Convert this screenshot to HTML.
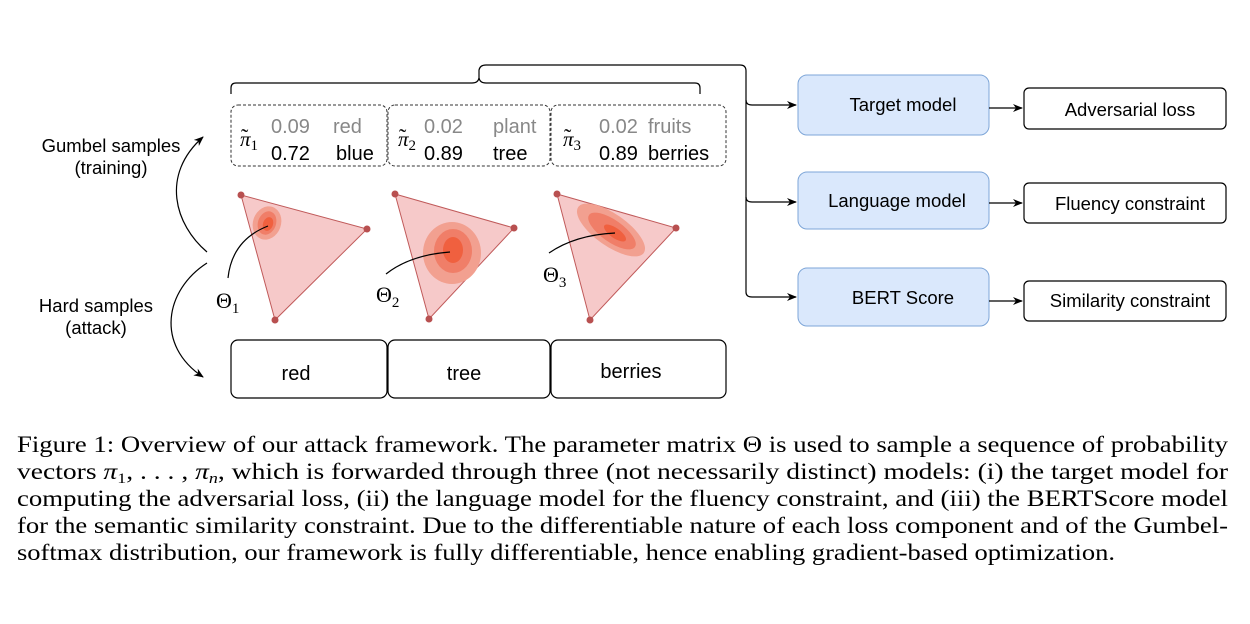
<!DOCTYPE html>
<html><head><meta charset="utf-8"><style>
body{margin:0;background:#fff;width:1250px;height:624px;overflow:hidden}
svg{display:block}
.s{font-family:"Liberation Sans",sans-serif}
.m{font-family:"Liberation Serif",serif}
</style></head><body>
<svg width="1250" height="624" viewBox="0 0 1250 624">
<defs>
<marker id="ah" markerWidth="10" markerHeight="8" refX="9" refY="4" orient="auto" markerUnits="userSpaceOnUse"><path d="M0,0 L10,4 L0,8 L3,4 Z" fill="#000"/></marker>
</defs>
<g fill="none" stroke="#000" stroke-width="1.2">
<path d="M231,94 V88 Q231,83 236,83 H472 Q478,83 479,78 V70 Q480,65 486,65 H740 Q746,65 746,71 V292 Q746,297 752,297 H796" marker-end="url(#ah)"/>
<path d="M479,78 Q480,83 486,83 H695 Q700,83 700,88 V94"/>
<path d="M746,100 Q746,105 752,105 H796" marker-end="url(#ah)"/>
<path d="M746,197 Q746,202 752,202 H796" marker-end="url(#ah)"/>
</g>
<g fill="none" stroke="#333" stroke-width="1" stroke-dasharray="3,2">
<rect x="231" y="105" width="156" height="61" rx="7"/>
<rect x="388" y="105" width="162" height="61" rx="7"/>
<rect x="551" y="105" width="175" height="61" rx="7"/>
</g>
<g class="m" font-size="21">
<text x="240" y="146" font-style="italic">π<tspan font-style="normal" font-size="15" dy="4">1</tspan></text>
<text x="241" y="144" font-size="22">˜</text>
<text x="398" y="146" font-style="italic">π<tspan font-style="normal" font-size="15" dy="4">2</tspan></text>
<text x="399" y="144" font-size="22">˜</text>
<text x="563" y="146" font-style="italic">π<tspan font-style="normal" font-size="15" dy="4">3</tspan></text>
<text x="564" y="144" font-size="22">˜</text>
</g>
<g class="s" font-size="20">
<text x="271" y="133" fill="#888">0.09</text><text x="333" y="133" fill="#888">red</text>
<text x="271" y="160">0.72</text><text x="336" y="160">blue</text>
<text x="424" y="133" fill="#888">0.02</text><text x="493" y="133" fill="#888">plant</text>
<text x="424" y="160">0.89</text><text x="493" y="160">tree</text>
<text x="599" y="133" fill="#888">0.02</text><text x="648" y="133" fill="#888">fruits</text>
<text x="599" y="160">0.89</text><text x="648" y="160">berries</text>
</g>
<g>
<polygon points="241,195 367,229 275,320" fill="#f6c9c9" stroke="#c05a5a" stroke-width="1"/>
<ellipse cx="267" cy="223" rx="14" ry="17" transform="rotate(20 267 223)" fill="#f2a090"/>
<ellipse cx="267" cy="223" rx="9" ry="12" transform="rotate(20 267 223)" fill="#f07e68"/>
<ellipse cx="268" cy="224" rx="5" ry="7" transform="rotate(20 268 224)" fill="#f0603f"/>
<circle cx="241" cy="195" r="3.5" fill="#b85050"/><circle cx="367" cy="229" r="3.5" fill="#b85050"/><circle cx="275" cy="320" r="3.5" fill="#b85050"/>
</g>
<g>
<polygon points="395,194 514,228 429,319" fill="#f6c9c9" stroke="#c05a5a" stroke-width="1"/>
<ellipse cx="452" cy="253" rx="29" ry="31" fill="#f2a090"/>
<ellipse cx="453" cy="251" rx="19" ry="22" fill="#f07e68"/>
<ellipse cx="453" cy="250" rx="10" ry="13" fill="#f0603f"/>
<circle cx="395" cy="194" r="3.5" fill="#b85050"/><circle cx="514" cy="228" r="3.5" fill="#b85050"/><circle cx="429" cy="319" r="3.5" fill="#b85050"/>
</g>
<g>
<polygon points="557,194 676,228 590,320" fill="#f6c9c9" stroke="#c05a5a" stroke-width="1"/>
<ellipse cx="611" cy="230" rx="40" ry="16" transform="rotate(35 611 230)" fill="#f2a090"/>
<ellipse cx="612" cy="231" rx="28" ry="11" transform="rotate(35 612 231)" fill="#f07e68"/>
<ellipse cx="615" cy="233" rx="13" ry="5" transform="rotate(35 615 233)" fill="#f0603f"/>
<circle cx="557" cy="194" r="3.5" fill="#b85050"/><circle cx="676" cy="228" r="3.5" fill="#b85050"/><circle cx="590" cy="320" r="3.5" fill="#b85050"/>
</g>
<g fill="none" stroke="#000" stroke-width="1.2">
<path d="M228,278 Q232,240 268,226"/>
<path d="M386,274 Q410,255 450,252"/>
<path d="M549,253 Q575,235 615,233"/>
<path d="M207,252 C175,225 160,175 203,137" marker-end="url(#ah)"/>
<path d="M207,263 C165,290 155,345 203,377" marker-end="url(#ah)"/>
</g>
<g class="m" font-size="22">
<text x="216" y="308">Θ<tspan font-size="15" dy="5">1</tspan></text>
<text x="376" y="302">Θ<tspan font-size="15" dy="5">2</tspan></text>
<text x="543" y="282">Θ<tspan font-size="15" dy="5">3</tspan></text>
</g>
<g class="s" font-size="18.5" text-anchor="middle">
<text x="111" y="152">Gumbel samples</text>
<text x="111" y="174">(training)</text>
<text x="96" y="312">Hard samples</text>
<text x="96" y="334">(attack)</text>
</g>
<g fill="none" stroke="#000" stroke-width="1.2">
<rect x="231" y="340" width="156" height="58" rx="7"/>
<rect x="388" y="340" width="162" height="58" rx="7"/>
<rect x="551" y="340" width="175" height="58" rx="7"/>
</g>
<g class="s" font-size="20" text-anchor="middle">
<text x="296" y="380">red</text>
<text x="464" y="380">tree</text>
<text x="631" y="378">berries</text>
</g>
<g fill="#dae8fc" stroke="#7ea6d8" stroke-width="1">
<rect x="798" y="75" width="191" height="60" rx="9"/>
<rect x="798" y="172" width="191" height="57" rx="9"/>
<rect x="798" y="268" width="191" height="58" rx="9"/>
</g>
<g fill="#fff" stroke="#000" stroke-width="1.2">
<rect x="1024" y="88" width="202" height="41" rx="5"/>
<rect x="1024" y="183" width="202" height="40" rx="5"/>
<rect x="1024" y="281" width="202" height="40" rx="5"/>
</g>
<g stroke="#000" stroke-width="1.2">
<line x1="989" y1="108" x2="1022" y2="108" marker-end="url(#ah)"/>
<line x1="989" y1="203" x2="1022" y2="203" marker-end="url(#ah)"/>
<line x1="989" y1="301" x2="1022" y2="301" marker-end="url(#ah)"/>
</g>
<g class="s" font-size="18.5" text-anchor="middle">
<text x="903" y="111">Target model</text>
<text x="897" y="207">Language model</text>
<text x="903" y="304">BERT Score</text>
<text x="1130" y="116">Adversarial loss</text>
<text x="1130" y="210">Fluency constraint</text>
<text x="1130" y="307">Similarity constraint</text>
</g>
<g class="m" font-size="23">
<text x="17" y="452" textLength="1211" lengthAdjust="spacingAndGlyphs">Figure 1:  Overview of our attack framework. The parameter matrix Θ is used to sample a sequence of probability</text>
<text x="17" y="479" textLength="1211" lengthAdjust="spacingAndGlyphs">vectors <tspan font-style="italic">π</tspan><tspan font-size="15" dy="4">1</tspan><tspan dy="-4">, . . . , </tspan><tspan font-style="italic">π</tspan><tspan font-size="15" font-style="italic" dy="4">n</tspan><tspan dy="-4">, which is forwarded through three (not necessarily distinct) models: (i) the target model for</tspan></text>
<text x="17" y="506" textLength="1211" lengthAdjust="spacingAndGlyphs">computing the adversarial loss, (ii) the language model for the fluency constraint, and (iii) the BERTScore model</text>
<text x="17" y="533" textLength="1211" lengthAdjust="spacingAndGlyphs">for the semantic similarity constraint. Due to the differentiable nature of each loss component and of the Gumbel-</text>
<text x="17" y="560" textLength="1098" lengthAdjust="spacingAndGlyphs">softmax distribution, our framework is fully differentiable, hence enabling gradient-based optimization.</text>
</g>
</svg>
</body></html>
